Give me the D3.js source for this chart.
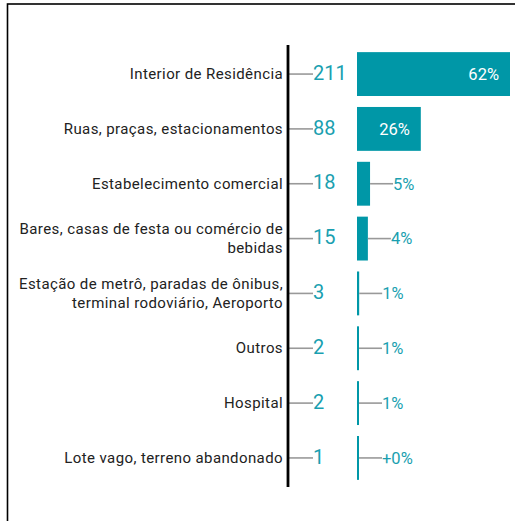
<!DOCTYPE html>
<html>
<head>
<meta charset="utf-8">
<script src="https://cdn.jsdelivr.net/npm/d3@7"></script>
<style>
  body { margin: 0; background: #fff; }
  svg { font-family: Roboto, "Noto Sans", sans-serif; }
</style>
</head>
<body>
<svg></svg>
<script>
// categories (each entry is the lines of the label)
var categories = [
    ["Interior de Residência"],
    ["Ruas, praças, estacionamentos"],
    ["Estabelecimento comercial"],
    ["Bares, casas de festa ou comércio de", "bebidas"],
    ["Estação de metrô, paradas de ônibus,", "terminal rodoviário, Aeroporto"],
    ["Outros"],
    ["Hospital"],
    ["Lote vago, terreno abandonado"]
]
var counts = [211, 88, 18, 15, 3, 2, 2, 1]
var pctLabels = ["62%", "26%", "5%", "4%", "1%", "1%", "1%", "+0%"]

var teal = "#0097a7"
var tealText = "#1a9fb0"
var leader = "#999999"

var screen = {width:515, height:521}

var svg = d3.select("svg")
    .attr("width", screen.width)
    .attr("height", screen.height)

// frame
svg.append("rect")
    .attr("x", 7.5)
    .attr("y", 4)
    .attr("width", 530)
    .attr("height", 540)
    .attr("fill", "none")
    .attr("stroke", "#000")
    .attr("stroke-width", 1.6)

var rows = counts.map(function(c, i)
{
    return {lines:categories[i], count:c, pct:pctLabels[i], idx:i};
})

var yScale = d3.scaleBand()
    .domain(d3.range(rows.length))
    .range([45, 487])
    .paddingInner(0.2)
    .paddingOuter(0.13)

var xScale = d3.scaleLinear()
    .domain([0, d3.max(counts)])
    .range([357, 510])

var axisX = 288
var countX = 313

var rowCenter = function(d)
{
    return yScale(d.idx) + yScale.bandwidth()/2;
}

// category labels
var labels = svg.append("g").classed("labels", true)
labels.selectAll("text")
    .data(rows)
    .enter()
    .append("text")
    .attr("text-anchor", "end")
    .attr("font-size", 15)
    .attr("letter-spacing", 0.4)
    .attr("fill", "#222")
    .each(function(d)
    {
        var t = d3.select(this);
        var n = d.lines.length;
        d.lines.forEach(function(line, k)
        {
            t.append("tspan")
                .attr("x", 283)
                .attr("y", rowCenter(d) + (k - (n-1)/2)*19 + 5)
                .text(line);
        });
    })

// leader lines axis -> count
svg.append("g")
    .selectAll("line")
    .data(rows)
    .enter()
    .append("line")
    .attr("x1", axisX)
    .attr("x2", countX)
    .attr("y1", rowCenter)
    .attr("y2", rowCenter)
    .attr("stroke", leader)
    .attr("stroke-width", 1.6)

// count labels
svg.append("g")
    .selectAll("text")
    .data(rows)
    .enter()
    .append("text")
    .attr("x", countX)
    .attr("y", function(d){ return rowCenter(d) + 5.6; })
    .attr("font-size", 20)
    .attr("fill", tealText)
    .text(function(d){ return d.count; })

// bars
var barWidth = function(d)
{
    return Math.max(2, xScale(d.count) - xScale(0));
}
svg.append("g")
    .selectAll("rect")
    .data(rows)
    .enter()
    .append("rect")
    .attr("x", xScale(0))
    .attr("y", function(d){ return yScale(d.idx); })
    .attr("width", barWidth)
    .attr("height", yScale.bandwidth())
    .attr("fill", teal)

// percent labels
var inside = function(d){ return barWidth(d) > 40; }
var outside = rows.filter(function(d){ return !inside(d); })

svg.append("g")
    .selectAll("line")
    .data(outside)
    .enter()
    .append("line")
    .attr("x1", function(d){ return xScale(0) + barWidth(d); })
    .attr("x2", function(d){ return xScale(0) + barWidth(d) + 23; })
    .attr("y1", rowCenter)
    .attr("y2", rowCenter)
    .attr("stroke", leader)
    .attr("stroke-width", 1.6)

svg.append("g")
    .selectAll("text")
    .data(rows)
    .enter()
    .append("text")
    .attr("font-size", 16.5)
    .attr("y", function(d){ return rowCenter(d) + 5.8; })
    .attr("x", function(d)
    {
        return inside(d) ? xScale(0) + barWidth(d) - 11 : xScale(0) + barWidth(d) + 23;
    })
    .attr("text-anchor", function(d){ return inside(d) ? "end" : "start"; })
    .attr("fill", function(d){ return inside(d) ? "#fff" : tealText; })
    .text(function(d){ return d.pct; })

// axis line
svg.append("line")
    .attr("x1", axisX)
    .attr("x2", axisX)
    .attr("y1", yScale.range()[0])
    .attr("y2", yScale.range()[1])
    .attr("stroke", "#000")
    .attr("stroke-width", 2.8)
</script>
</body>
</html>
